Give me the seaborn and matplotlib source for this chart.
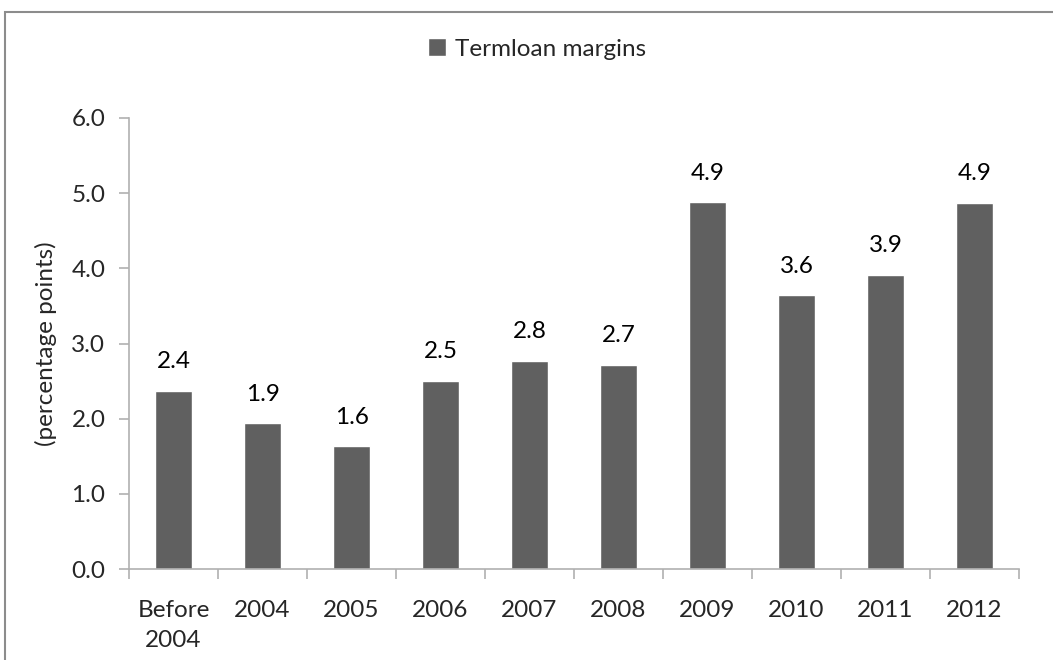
import pandas as pd
import seaborn as sns
import matplotlib.pyplot as plt
from matplotlib.patches import Rectangle

# data
categories = ['Before\n2004', '2004', '2005', '2006', '2007', '2008', '2009', '2010', '2011', '2012']
margins = [2.37, 1.94, 1.63, 2.50, 2.77, 2.72, 4.88, 3.64, 3.91, 4.87]
series_name = 'Termloan margins'

df = pd.DataFrame({'Year': categories, 'Margin': margins})

sns.set_style('white')
plt.rcParams['font.family'] = ['Lato', 'DejaVu Sans']
fs = 17.5

fig = plt.figure(figsize=(10.53, 6.6), dpi=100)
ax = fig.add_axes([129 / 1053, 1 - 569 / 660, 890 / 1053, 451 / 660])

bar_color = '#606060'
sns.barplot(data=df, x='Year', y='Margin', color=bar_color, width=0.41,
            saturation=1, ax=ax, label=series_name)

# value labels above bars
for i, v in enumerate(margins):
    ax.annotate(f'{v:.1f}', (i, v), xytext=(0, 21), textcoords='offset points',
                ha='center', va='center', fontsize=fs, color='black')

ax.set_ylim(0, 6)
ax.set_xlim(-0.5, len(categories) - 0.5)
ax.set_yticks([0, 1, 2, 3, 4, 5, 6])
ax.set_yticklabels([f'{t:.1f}' for t in range(7)], fontsize=fs)

# excel style: ticks between categories, labels at centres
ax.set_xticks([i - 0.5 for i in range(len(categories) + 1)])
ax.set_xticklabels([])
ax.set_xticks(range(len(categories)), minor=True)
ax.set_xticklabels(categories, minor=True, fontsize=fs, linespacing=1.55)
ax.tick_params(axis='x', which='major', length=7, color='#b0b0b0', width=1.2, direction='out', bottom=True)
ax.tick_params(axis='x', which='minor', length=0, pad=22)
ax.tick_params(axis='y', length=7, color='#b0b0b0', width=1.2, direction='out', left=True, pad=10)

ax.set_xlabel('')
ax.set_ylabel('(percentage points)', fontsize=fs, labelpad=10)

for side in ['top', 'right']:
    ax.spines[side].set_visible(False)
for side in ['left', 'bottom']:
    ax.spines[side].set_color('#b0b0b0')
    ax.spines[side].set_linewidth(1.2)

leg = ax.legend(loc='center', bbox_to_anchor=(537 / 1053, 1 - 49 / 660),
                bbox_transform=fig.transFigure, frameon=False, fontsize=fs,
                handlelength=0.75, handleheight=0.75, handletextpad=0.35)

# outer chart border
fig.patches.append(Rectangle((5 / 1053, -0.1), 1.2, 1 - 12 / 660 + 0.1,
                             transform=fig.transFigure, fill=False,
                             edgecolor='#8c8c8c', linewidth=1.5))

fig.savefig('out.png', dpi=100)
